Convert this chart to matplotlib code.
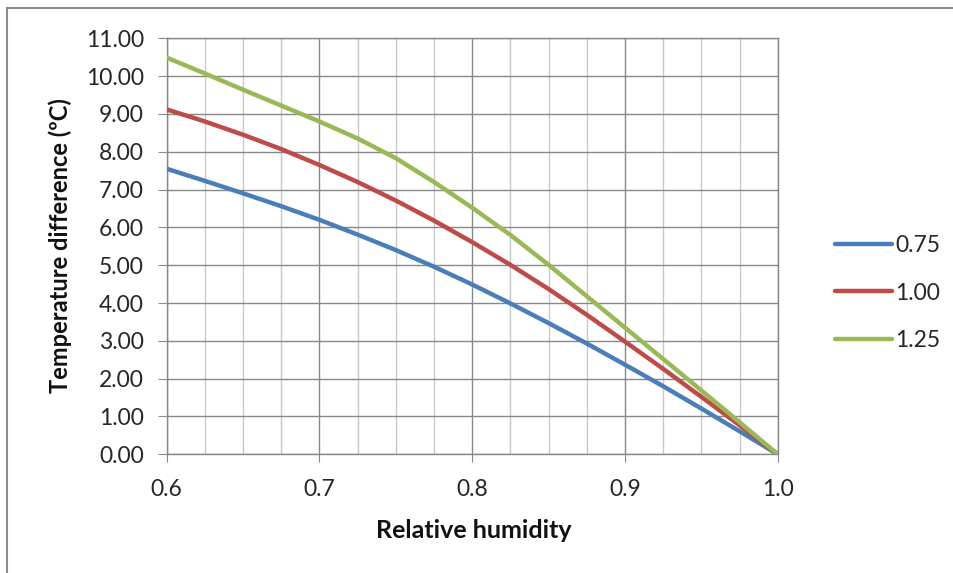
import matplotlib
matplotlib.use("Agg")
import matplotlib.pyplot as plt
from matplotlib.patches import Rectangle
from matplotlib.ticker import MultipleLocator, FormatStrFormatter

plt.rcParams['font.family'] = ['Lato', 'DejaVu Sans']

humidity = [0.6, 0.625, 0.65, 0.675, 0.7, 0.725, 0.75, 0.775, 0.8,
            0.825, 0.85, 0.875, 0.9, 0.925, 0.95, 0.975, 1.0]
s075 = [7.55, 7.23, 6.90, 6.56, 6.20, 5.81, 5.40, 4.96, 4.49,
        3.99, 3.47, 2.93, 2.37, 1.80, 1.21, 0.61, 0.0]
s100 = [9.12, 8.80, 8.45, 8.07, 7.65, 7.20, 6.71, 6.18, 5.61,
        5.01, 4.37, 3.69, 2.98, 2.26, 1.52, 0.77, 0.0]
s125 = [10.49, 10.07, 9.64, 9.22, 8.80, 8.35, 7.83, 7.20, 6.52,
        5.80, 5.01, 4.18, 3.35, 2.52, 1.69, 0.85, 0.0]
series_labels = ['0.75', '1.00', '1.25']
colors = ['#4A7EBB', '#BE4B48', '#98B954']

fig = plt.figure(figsize=(9.54, 5.73), dpi=100)
fig.patch.set_facecolor('white')

# outer chart frame
fig.add_artist(Rectangle((7/954, -0.1), 1.2, 1 - 8/573 + 0.1,
                         transform=fig.transFigure, fill=False,
                         edgecolor='#8c8c8c', linewidth=1.5))

ax = fig.add_axes([166.7/954, 1 - 454.3/573, (777.7 - 166.7)/954, (454.3 - 38.3)/573])

for ser, lab, c in zip([s075, s100, s125], series_labels, colors):
    ax.plot(humidity, ser, color=c, lw=3.2, label=lab, solid_capstyle='round',
            solid_joinstyle='round', zorder=3)

ax.set_xlim(0.6, 1.0)
ax.set_ylim(0, 11)
ax.xaxis.set_major_locator(MultipleLocator(0.1))
ax.xaxis.set_minor_locator(MultipleLocator(0.025))
ax.yaxis.set_major_locator(MultipleLocator(1))
ax.xaxis.set_major_formatter(FormatStrFormatter('%.1f'))
ax.yaxis.set_major_formatter(FormatStrFormatter('%.2f'))

ax.grid(which='minor', axis='x', color='#c8c8c8', lw=1.0, zorder=0)
ax.grid(which='major', axis='x', color='#888888', lw=1.0, zorder=1)
ax.grid(which='major', axis='y', color='#888888', lw=1.0, zorder=1)

for sp in ax.spines.values():
    sp.set_color('#888888')
    sp.set_linewidth(1.0)

ax.tick_params(axis='x', which='major', length=6, color='#888888', pad=12,
               labelsize=16.5, labelcolor='#262626')
ax.tick_params(axis='y', which='major', length=6.5, color='#888888', pad=10,
               labelsize=16.5, labelcolor='#262626')
ax.tick_params(which='minor', length=0)

fig.text(474/954, 1 - 530/573, 'Relative humidity', ha='center', va='center',
         fontsize=18, fontweight='bold', color='#111111')
fig.text(60/954, 1 - 246/573, 'Temperature difference (ºC)', ha='center', va='center',
         rotation=90, fontsize=17, fontweight='bold', color='#111111')

leg = ax.legend(loc='center left', bbox_to_anchor=(814/954, 1 - 293/573),
                bbox_transform=fig.transFigure, frameon=False, fontsize=16.5,
                handlelength=2.5, handletextpad=0.15, labelspacing=1.15)
for t in leg.get_texts():
    t.set_color('#262626')

fig.savefig('out.png', dpi=100)
